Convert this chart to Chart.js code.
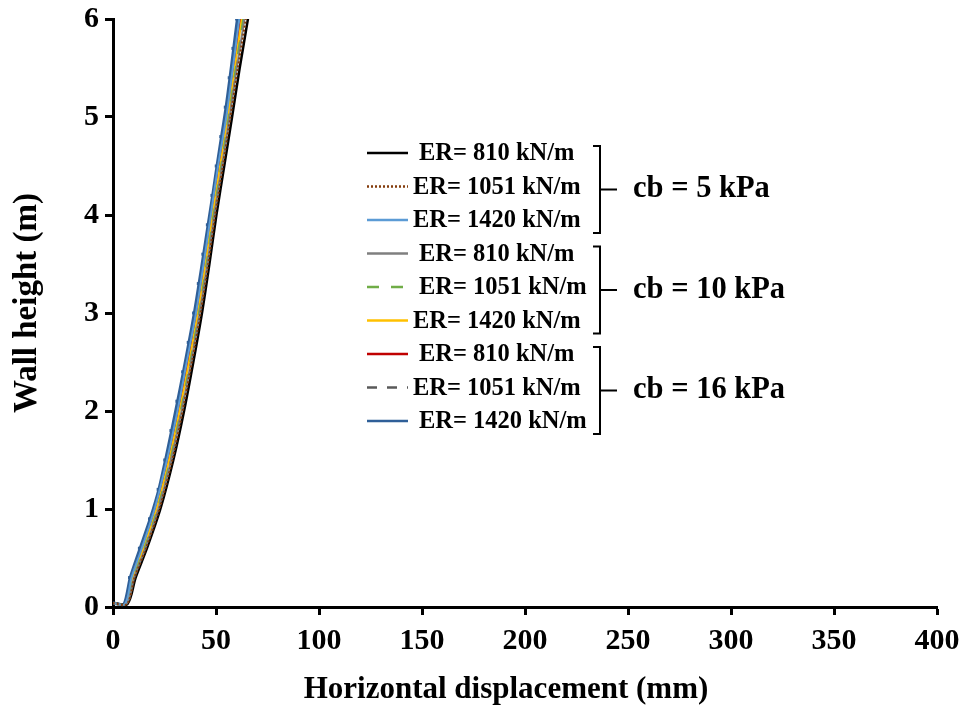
<!DOCTYPE html>
<html>
<head>
<meta charset="utf-8">
<script src="https://cdn.jsdelivr.net/npm/chart.js@4.4.1/dist/chart.umd.min.js"></script>
<style>
  html, body { margin: 0; padding: 0; background: #fff; }
  #wrap { width: 968px; height: 711px; position: relative; }
</style>
</head>
<body>
<div id="wrap"><canvas id="wallChart"></canvas></div>
<script>
// wall height levels (m) shared by most runs
const heights = [0.04, 0.03, 0.3, 0.6, 1.0, 1.5, 2.0, 2.5, 3.0, 3.5, 4.0, 4.5, 5.0, 5.5, 6.0, 6.3];
// denser levels for the cb = 16 kPa, ER = 1420 run (output every 0.3 m)
const heightsFine = [0.04, 0.03, 0.3, 0.6, 0.9, 1.2, 1.5, 1.8, 2.1, 2.4, 2.7, 3.0, 3.3, 3.6, 3.9, 4.2, 4.5, 4.8, 5.1, 5.4, 5.7, 6.0, 6.3];

// horizontal displacement (mm)
const cb5_er810   = [0, 7.0, 11.0, 16.5, 23.0, 29.3, 34.5, 39.0, 43.2, 46.8, 50.2, 54.0, 57.8, 61.5, 65.5, 67.5];
const cb5_er1051  = [0, 6.8, 10.5, 16.0, 22.5, 28.8, 33.8, 38.3, 42.5, 46.2, 49.6, 53.3, 57.0, 60.6, 64.5, 66.5];
const cb5_er1420  = [0, 5.8, 9.0, 14.0, 20.2, 26.2, 31.3, 35.8, 40.3, 44.0, 47.5, 51.0, 55.0, 58.2, 61.3, 63.3];
const cb10_er810  = [0, 6.5, 10.3, 15.7, 22.0, 28.2, 33.3, 37.9, 42.1, 45.8, 49.2, 52.9, 56.6, 60.1, 63.8, 65.8];
const cb10_er1051 = [0, 6.3, 10.0, 15.3, 21.6, 27.8, 32.9, 37.5, 41.7, 45.4, 48.8, 52.5, 56.2, 59.6, 63.2, 65.2];
const cb10_er1420 = [0, 6.0, 9.6, 14.8, 21.1, 27.2, 32.3, 36.9, 41.2, 44.9, 48.3, 52.0, 55.7, 59.1, 62.5, 64.5];
const cb16_er810  = [0, 6.0, 9.4, 14.5, 20.8, 26.9, 32.0, 36.5, 40.9, 44.5, 48.0, 51.7, 55.4, 58.7, 62.0, 64.0];
const cb16_er1051 = [0, 6.2, 9.8, 15.0, 21.4, 27.5, 32.6, 37.2, 41.5, 45.1, 48.5, 52.2, 56.0, 59.4, 62.9, 64.9];
const cb16_er1420 = [0, 5.5, 8.5, 13.3, 18.2, 22.4, 25.6, 28.6, 31.5, 34.3, 37.0, 39.6, 41.9, 44.1, 46.3, 48.5, 50.6, 52.8, 55.0, 56.9, 58.7, 60.5, 62.5];

const erLabels = ['ER= 810 kN/m', 'ER= 1051 kN/m', 'ER= 1420 kN/m'];
const cbLabels = ['cb = 5 kPa', 'cb = 10 kPa', 'cb = 16 kPa'];
const xTicks = [0, 50, 100, 150, 200, 250, 300, 350, 400];
const yTicks = [0, 1, 2, 3, 4, 5, 6];
const xTitle = 'Horizontal displacement (mm)';
const yTitle = 'Wall height (m)';

const FONT = '"Liberation Serif", "Times New Roman", serif';

function toPoints(xs, hs) {
    return xs.map((x, i) => ({ x: x, y: hs[i] }));
}

function series(label, xs, hs, color, dash, width, order) {
    return {
        label: label,
        data: toPoints(xs, hs),
        borderColor: color,
        backgroundColor: color,
        borderWidth: width,
        borderDash: dash,
        pointRadius: 0,
        tension: 0.3,
        order: order
    };
}

const datasets = [
    series(erLabels[0], cb5_er810,   heights, '#000000', [], 2.5, 2),
    series(erLabels[1], cb5_er1051,  heights, '#843c0c', [2, 2], 2, 1),
    series(erLabels[2], cb5_er1420,  heights, '#5b9bd5', [], 2, 1),
    series(erLabels[0], cb10_er810,  heights, '#7f7f7f', [], 2, 1),
    series(erLabels[1], cb10_er1051, heights, '#70ad47', [12, 12], 2, 1),
    series(erLabels[2], cb10_er1420, heights, '#ffc000', [], 2, 1),
    series(erLabels[0], cb16_er810,  heights, '#c00000', [], 2, 1),
    series(erLabels[1], cb16_er1051, heights, '#595959', [10, 10], 2, 1),
    series(erLabels[2], cb16_er1420, heightsFine, '#2f5f98', [], 3.5, 3)
];
// the 16 kPa / 1420 run shows small jogs at each output level
datasets[8].pointStyle = 'line';
datasets[8].pointRadius = ctx => (ctx.dataIndex > 1 ? 2.5 : 0);
datasets[8].pointBorderWidth = 3;
datasets[8].tension = 0.2;

// axis titles and grouped legend with braces
const annotations = {
    id: 'annotations',
    afterDraw(chart) {
        const ctx = chart.ctx;
        ctx.save();
        ctx.fillStyle = '#000';
        ctx.textAlign = 'center';
        ctx.textBaseline = 'middle';
        ctx.font = 'bold 31px ' + FONT;
        ctx.fillText(xTitle, 506, 690);
        ctx.save();
        ctx.translate(27, 303);
        ctx.rotate(-Math.PI / 2);
        ctx.font = 'bold 33px ' + FONT;
        ctx.fillText(yTitle, 0, 0);
        ctx.restore();

        const rowY = i => 153 + i * 33.5;
        const textX = [419, 413, 413, 419, 419, 413, 419, 413, 419];
        ctx.textAlign = 'left';
        chart.data.datasets.forEach((ds, i) => {
            const y = rowY(i);
            ctx.beginPath();
            ctx.strokeStyle = ds.borderColor;
            ctx.lineWidth = 2.5;
            ctx.setLineDash(ds.borderDash || []);
            ctx.moveTo(367, y);
            ctx.lineTo(408, y);
            ctx.stroke();
            ctx.setLineDash([]);
            ctx.font = 'bold 24.5px ' + FONT;
            ctx.fillText(ds.label, textX[i], y + 1);
        });
        cbLabels.forEach((txt, g) => {
            const top = rowY(g * 3) - 7;
            const bottom = rowY(g * 3 + 2) + 13;
            const mid = (top + bottom) / 2;
            const bx = 600;
            ctx.beginPath();
            ctx.strokeStyle = '#000';
            ctx.lineWidth = 2;
            ctx.moveTo(bx - 7, top);
            ctx.lineTo(bx, top);
            ctx.lineTo(bx, bottom);
            ctx.lineTo(bx - 7, bottom);
            ctx.moveTo(bx, mid);
            ctx.lineTo(bx + 17, mid);
            ctx.stroke();
            ctx.font = 'bold 30.5px ' + FONT;
            ctx.fillText(txt, 633, mid);
        });
        ctx.restore();
    }
};

const axisFont = { family: FONT, size: 30, weight: 'bold', lineHeight: 1 };

new Chart(document.getElementById('wallChart').getContext('2d'), {
    type: 'line',
    data: { datasets: datasets },
    options: {
        responsive: true,
        maintainAspectRatio: false,
        animation: false,
        layout: { padding: { top: 19, right: 31, left: 0, bottom: 0 } },
        plugins: {
            legend: { display: false },
            tooltip: { enabled: false }
        },
        scales: {
            x: {
                type: 'linear',
                min: 0,
                max: 400,
                afterBuildTicks: s => { s.ticks = xTicks.map(v => ({ value: v })); },
                afterFit: s => { s.height = 104; s.paddingRight = 0; s.paddingLeft = 0; },
                border: { color: '#000', width: 3 },
                grid: { drawOnChartArea: false, drawTicks: true, tickLength: 8, tickWidth: 3, tickColor: '#000' },
                ticks: { color: '#000', font: axisFont, padding: 11, maxRotation: 0 }
            },
            y: {
                type: 'linear',
                min: 0,
                max: 6,
                afterBuildTicks: s => { s.ticks = yTicks.map(v => ({ value: v })); },
                afterFit: s => { s.width = 113; s.paddingTop = 0; s.paddingBottom = 0; },
                border: { color: '#000', width: 3 },
                grid: { drawOnChartArea: false, drawTicks: true, tickLength: 8, tickWidth: 3, tickColor: '#000' },
                ticks: { color: '#000', font: axisFont, padding: 6 }
            }
        }
    },
    plugins: [annotations]
});
</script>
</body>
</html>
